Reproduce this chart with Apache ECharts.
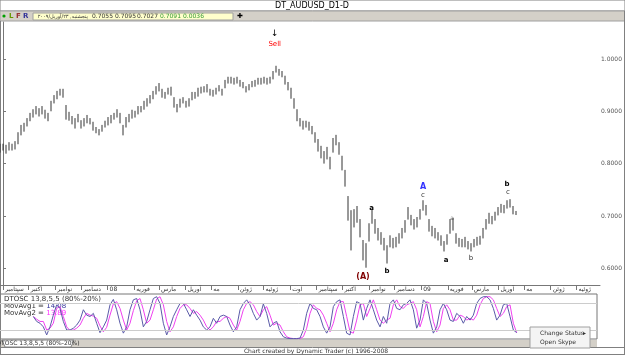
<!DOCTYPE html>
<html>
<head>
<meta charset="utf-8">
<script src="https://cdn.jsdelivr.net/npm/echarts@6/dist/echarts.min.js"></script>
<style>
  html, body { margin: 0; padding: 0; background: #fff; }
  #chart { width: 625px; height: 355px; }
</style>
</head>
<body>
<div id="chart"></div>
<script>
// x values are calendar days counted from 1 Sep 2007
const barStart = -3.5
const barStep = 3.5
const oscStart = 35.4
const oscStep = 3.889

const priceHigh = [
  0.838, 0.838, 0.836, 0.841, 0.838, 0.843, 0.860, 0.874, 0.878, 0.887,
  0.897, 0.904, 0.910, 0.906, 0.910, 0.903, 0.897, 0.920, 0.931, 0.939,
  0.943, 0.943, 0.912, 0.899, 0.891, 0.887, 0.895, 0.883, 0.887, 0.893,
  0.887, 0.880, 0.870, 0.866, 0.874, 0.882, 0.889, 0.893, 0.897, 0.904,
  0.897, 0.874, 0.889, 0.895, 0.903, 0.901, 0.910, 0.910, 0.920, 0.925,
  0.931, 0.939, 0.948, 0.954, 0.943, 0.937, 0.945, 0.947, 0.927, 0.914,
  0.924, 0.927, 0.920, 0.925, 0.937, 0.937, 0.945, 0.947, 0.948, 0.952,
  0.943, 0.941, 0.945, 0.950, 0.943, 0.960, 0.966, 0.966, 0.964, 0.966,
  0.960, 0.956, 0.948, 0.952, 0.958, 0.960, 0.964, 0.964, 0.966, 0.964,
  0.966, 0.977, 0.987, 0.981, 0.977, 0.968, 0.956, 0.945, 0.925, 0.904,
  0.887, 0.882, 0.882, 0.880, 0.872, 0.860, 0.847, 0.834, 0.824, 0.832,
  0.813, 0.849, 0.855, 0.841, 0.815, 0.788, 0.738, 0.711, 0.713, 0.719,
  0.694, 0.654, 0.648, 0.686, 0.713, 0.694, 0.677, 0.669, 0.658, 0.644,
  0.663, 0.658, 0.660, 0.667, 0.677, 0.692, 0.717, 0.702, 0.694, 0.698,
  0.713, 0.730, 0.721, 0.694, 0.681, 0.677, 0.669, 0.663, 0.652, 0.665,
  0.694, 0.696, 0.667, 0.658, 0.656, 0.660, 0.652, 0.648, 0.656, 0.660,
  0.662, 0.677, 0.694, 0.706, 0.700, 0.708, 0.717, 0.723, 0.721, 0.730,
  0.732, 0.719, 0.7095
]
const priceLow = [
  0.822, 0.826, 0.820, 0.826, 0.826, 0.828, 0.838, 0.855, 0.862, 0.872,
  0.882, 0.889, 0.895, 0.891, 0.895, 0.887, 0.882, 0.901, 0.916, 0.924,
  0.931, 0.927, 0.885, 0.883, 0.876, 0.868, 0.880, 0.868, 0.872, 0.878,
  0.876, 0.864, 0.859, 0.855, 0.862, 0.870, 0.874, 0.878, 0.885, 0.889,
  0.878, 0.855, 0.870, 0.880, 0.887, 0.889, 0.895, 0.899, 0.904, 0.910,
  0.916, 0.924, 0.933, 0.939, 0.927, 0.925, 0.933, 0.931, 0.908, 0.899,
  0.908, 0.916, 0.908, 0.910, 0.922, 0.925, 0.929, 0.935, 0.937, 0.937,
  0.931, 0.929, 0.933, 0.939, 0.931, 0.945, 0.954, 0.954, 0.952, 0.954,
  0.948, 0.945, 0.937, 0.941, 0.947, 0.948, 0.952, 0.952, 0.954, 0.952,
  0.954, 0.962, 0.975, 0.969, 0.966, 0.952, 0.941, 0.925, 0.906, 0.882,
  0.872, 0.866, 0.870, 0.864, 0.857, 0.841, 0.824, 0.811, 0.801, 0.809,
  0.790, 0.822, 0.836, 0.818, 0.788, 0.757, 0.692, 0.635, 0.679, 0.688,
  0.660, 0.616, 0.602, 0.652, 0.686, 0.667, 0.654, 0.646, 0.635, 0.610,
  0.641, 0.639, 0.641, 0.648, 0.658, 0.669, 0.694, 0.683, 0.675, 0.679,
  0.694, 0.711, 0.702, 0.671, 0.662, 0.658, 0.654, 0.644, 0.633, 0.646,
  0.667, 0.673, 0.648, 0.642, 0.641, 0.641, 0.637, 0.633, 0.641, 0.644,
  0.646, 0.658, 0.675, 0.686, 0.685, 0.692, 0.702, 0.707, 0.706, 0.715,
  0.717, 0.704, 0.7027
]
const lastBar = ['0.7055', '0.7095', '0.7027', '0.7091', '0.0036']
const lastClose = 0.7091

const oscFast = [
  50, 39, 35, 27, 9, 27, 53, 76, 68, 39,
  20, 20, 24, 31, 42, 65, 53, 50, 57, 35,
  14, 27, 42, 76, 88, 65, 35, 13, 27, 65,
  87, 90, 65, 27, 39, 65, 90, 94, 79, 35,
  9, 27, 50, 65, 79, 79, 65, 50, 65, 53,
  42, 27, 20, 27, 46, 35, 50, 53, 50, 31,
  16, 27, 65, 79, 87, 76, 57, 42, 50, 78,
  57, 27, 35, 39, 16, 5, 2, 1, 1, 1,
  2, 20, 57, 79, 68, 65, 50, 27, 13, 27,
  72, 83, 87, 50, 13, 9, 50, 83, 79, 42,
  68, 87, 65, 42, 27, 50, 35, 79, 87, 68,
  65, 76, 79, 87, 65, 24, 42, 87, 79, 42,
  13, 27, 65, 79, 65, 42, 39, 57, 50, 35,
  50, 42, 53, 79, 90, 94, 94, 87, 68, 42,
  53, 76, 79, 50, 20, 14.08
]
const oscSlow = [
  50, 44, 39, 39, 20, 24, 35, 68, 72, 50,
  27, 19, 20, 24, 31, 46, 57, 53, 51, 46,
  29, 16, 26, 53, 78, 83, 68, 42, 20, 35,
  63, 85, 90, 65, 35, 42, 65, 89, 94, 76,
  39, 16, 27, 50, 68, 76, 76, 68, 57, 61,
  53, 42, 27, 20, 27, 39, 39, 46, 50, 46,
  31, 20, 39, 65, 79, 83, 76, 61, 50, 65,
  72, 53, 31, 35, 31, 16, 5, 2, 1, 1,
  1, 5, 24, 57, 76, 68, 65, 53, 35, 16,
  35, 65, 83, 83, 50, 16, 13, 42, 76, 79,
  50, 68, 87, 65, 42, 35, 42, 46, 76, 87,
  72, 68, 76, 79, 83, 65, 27, 50, 83, 79,
  39, 16, 31, 68, 76, 65, 42, 42, 53, 50,
  42, 46, 42, 53, 76, 90, 94, 94, 87, 68,
  50, 57, 72, 76, 35, 13.89
]

const monthTicks = [0, 30, 61, 91, 122, 153, 182, 213, 243, 274, 304, 335,
  366, 396, 427, 457, 488, 519, 547, 578, 608, 639, 669]
const monthNames = ['سپتامبر', 'اکتبر', 'نوامبر', 'دسامبر', '08', 'فوریه', 'مارس', 'آوریل', 'مه', 'ژوئن', 'ژوئیه', 'اوت',
  'سپتامبر', 'اکتبر', 'نوامبر', 'دسامبر', '09', 'فوریه', 'مارس', 'آوریل', 'مه', 'ژوئن', 'ژوئیه']
const priceTicks = [0.6, 0.7, 0.8, 0.9, 1.0]
const oscLevels = [80, 20]

// wave labels: [day, price, text, colour, bold, size]
const waveLabels = [
  [317, 1.049, '↓', '#000000', false, 9],
  [317, 1.029, 'Sell', '#ff0000', false, 7],
  [420, 0.583, '(A)', '#800000', true, 8],
  [430, 0.715, 'a', '#000000', true, 7],
  [448, 0.595, 'b', '#000000', true, 7],
  [490, 0.755, 'A', '#3333ff', true, 8],
  [490, 0.740, 'c', '#333333', false, 7],
  [517, 0.616, 'a', '#000000', true, 7],
  [524, 0.696, 'a', '#555555', false, 6],
  [546, 0.620, 'b', '#333333', false, 7],
  [588, 0.761, 'b', '#000000', true, 7],
  [589, 0.746, 'c', '#333333', false, 7]
]

const font = 'DejaVu Sans'
const bars = priceHigh.map((h, i) => [barStart + barStep * i, priceLow[i], h])
const fast = oscFast.map((v, i) => [oscStart + oscStep * i, v])
const slow = oscSlow.map((v, i) => [oscStart + oscStep * i, v])

const chart = echarts.init(document.getElementById('chart'))
chart.setOption({
  animation: false,
  backgroundColor: '#ffffff',
  textStyle: { fontFamily: font },
  grid: [
    { left: 0, right: 25, top: 22, height: 263 },
    { left: 0, right: 28, top: 294, height: 45, show: true, borderColor: '#777777', borderWidth: 1 }
  ],
  xAxis: [{
    type: 'value',
    gridIndex: 0,
    min: -3.5,
    max: 696.5,
    axisLine: { lineStyle: { color: '#777777' } },
    axisTick: { customValues: monthTicks, length: 5, lineStyle: { color: '#777777' } },
    axisLabel: {
      customValues: monthTicks,
      fontSize: 6,
      color: '#333333',
      fontFamily: font,
      align: 'left',
      margin: 1,
      padding: [0, 0, 0, 2],
      formatter: v => monthNames[monthTicks.indexOf(Math.round(v))] || ''
    },
    splitLine: { show: false }
  }, {
    type: 'value',
    gridIndex: 1,
    min: -3.5,
    max: 693,
    show: false
  }],
  yAxis: [{
    type: 'value',
    gridIndex: 0,
    position: 'right',
    min: 0.568,
    max: 1.0707,
    axisLine: { show: true, lineStyle: { color: '#777777', width: 1 } },
    axisTick: { show: true, customValues: priceTicks, length: 3, inside: false, lineStyle: { color: '#777777' } },
    axisLabel: {
      customValues: priceTicks,
      fontSize: 6,
      color: '#555555',
      margin: 1,
      fontFamily: font,
      formatter: v => v.toFixed(4)
    },
    splitLine: { show: false }
  }, {
    type: 'value',
    gridIndex: 1,
    min: 0,
    max: 100,
    show: false
  }],
  series: [{
    type: 'custom',
    xAxisIndex: 0,
    yAxisIndex: 0,
    data: bars,
    encode: { x: 0, y: [1, 2] },
    renderItem: function (params, api) {
      const top = api.coord([api.value(0), api.value(2)])
      const bottom = api.coord([api.value(0), api.value(1)])
      return {
        type: 'line',
        shape: { x1: top[0], y1: top[1], x2: bottom[0], y2: bottom[1] + 0.5 },
        style: { stroke: '#333333', lineWidth: 1 }
      }
    },
    markLine: {
      silent: true,
      symbol: 'none',
      lineStyle: { opacity: 0 },
      label: {
        position: 'end',
        distance: 1,
        formatter: lastClose.toFixed(4),
        backgroundColor: '#ffff00',
        color: '#333333',
        fontSize: 6,
        fontFamily: font,
        padding: [1, 5, 0, 1]
      },
      data: [{ yAxis: lastClose }]
    },
    markPoint: {
      silent: true,
      symbol: 'circle',
      symbolSize: 0,
      data: waveLabels.map(w => ({
        coord: [w[0], w[1]],
        label: {
          show: true,
          position: 'inside',
          formatter: w[2],
          color: w[3],
          fontWeight: w[4] ? 'bold' : 'normal',
          fontSize: w[5],
          fontFamily: font
        }
      }))
    }
  }, {
    name: 'MovAvg1',
    type: 'line',
    xAxisIndex: 1,
    yAxisIndex: 1,
    data: fast,
    showSymbol: false,
    lineStyle: { color: '#5b5ba8', width: 1 },
    markLine: {
      silent: true,
      symbol: 'none',
      label: { show: false },
      lineStyle: { color: '#cccccc', width: 1, type: 'solid' },
      data: oscLevels.map(v => ({ yAxis: v }))
    },
    z: 3
  }, {
    name: 'MovAvg2',
    type: 'line',
    xAxisIndex: 1,
    yAxisIndex: 1,
    data: slow,
    showSymbol: false,
    lineStyle: { color: '#f040f0', width: 1 },
    z: 2
  }],
  graphic: [
    // title bar
    { type: 'rect', shape: { x: 0, y: 0, width: 625, height: 11 }, style: { fill: '#ffffff', stroke: '#808080', lineWidth: 1 }, silent: true },
    { type: 'text', x: 312, y: 6, style: { text: 'DT_AUDUSD_D1-D', fill: '#000000', font: '8px ' + font, align: 'center', verticalAlign: 'middle' } },
    // toolbar
    { type: 'rect', shape: { x: 0, y: 11, width: 625, height: 10 }, style: { fill: '#d4d0c8', stroke: '#a0a0a0', lineWidth: 1 }, silent: true },
    { type: 'circle', shape: { cx: 4, cy: 16, r: 1.6 }, style: { fill: '#00a000' } },
    { type: 'text', x: 9, y: 16, style: { text: 'L', fill: '#669900', font: 'bold 7px ' + font, verticalAlign: 'middle' } },
    { type: 'text', x: 16, y: 16, style: { text: 'F', fill: '#993333', font: 'bold 7px ' + font, verticalAlign: 'middle' } },
    { type: 'text', x: 23, y: 16, style: { text: 'R', fill: '#333399', font: 'bold 7px ' + font, verticalAlign: 'middle' } },
    { type: 'rect', shape: { x: 33, y: 13, width: 200, height: 7 }, style: { fill: '#ffffcc', stroke: '#a0a0a0', lineWidth: 1 } },
    { type: 'text', x: 88, y: 16.5, style: { text: 'پنجشنبه, ۲۳/آوریل/۲۰۰۹', fill: '#333333', font: '5px ' + font, align: 'right', verticalAlign: 'middle' } },
    { type: 'text', x: 92, y: 16.5, style: { text: lastBar[0], fill: '#333333', font: '6px ' + font, verticalAlign: 'middle' } },
    { type: 'text', x: 115, y: 16.5, style: { text: lastBar[1], fill: '#333333', font: '6px ' + font, verticalAlign: 'middle' } },
    { type: 'text', x: 137, y: 16.5, style: { text: lastBar[2], fill: '#333333', font: '6px ' + font, verticalAlign: 'middle' } },
    { type: 'text', x: 160, y: 16.5, style: { text: lastBar[3], fill: '#339933', font: '6px ' + font, verticalAlign: 'middle' } },
    { type: 'text', x: 183, y: 16.5, style: { text: lastBar[4], fill: '#339933', font: '6px ' + font, verticalAlign: 'middle' } },
    { type: 'text', x: 240, y: 16.5, style: { text: '✚', fill: '#000000', font: '7px ' + font, align: 'center', verticalAlign: 'middle' } },
    // frame
    { type: 'line', shape: { x1: 0.5, y1: 21, x2: 0.5, y2: 355 }, style: { stroke: '#808080', lineWidth: 1 } },
    { type: 'line', shape: { x1: 624.5, y1: 11, x2: 624.5, y2: 355 }, style: { stroke: '#808080', lineWidth: 1 } },
    // oscillator texts
    { type: 'text', x: 4, y: 299, style: { text: 'DTOSC 13,8,5,5 (80%-20%)', fill: '#333333', font: '7px ' + font, verticalAlign: 'middle' } },
    { type: 'text', x: 4, y: 306, style: { text: 'MovAvg1 = {a|14.08}', rich: { a: { fill: '#333399', font: '7px ' + font } }, fill: '#333333', font: '7px ' + font, verticalAlign: 'middle' } },
    { type: 'text', x: 4, y: 313, style: { text: 'MovAvg2 = {a|13.89}', rich: { a: { fill: '#ff33ff', font: '7px ' + font } }, fill: '#333333', font: '7px ' + font, verticalAlign: 'middle' } },
    // tab strip
    { type: 'rect', shape: { x: 1, y: 340, width: 596, height: 7 }, style: { fill: '#d4d0c8' }, silent: true },
    { type: 'polygon', shape: { points: [[2, 340], [74, 340], [71, 347], [5, 347]] }, style: { fill: '#ffffff', stroke: '#808080', lineWidth: 1 } },
    { type: 'text', x: 38, y: 343.5, style: { text: 'DTOSC 13,8,5,5 (80%-20%)', fill: '#333333', font: '6px ' + font, align: 'center', verticalAlign: 'middle' } },
    { type: 'line', shape: { x1: 0, y1: 347.5, x2: 625, y2: 347.5 }, style: { stroke: '#808080', lineWidth: 1 } },
    { type: 'text', x: 316, y: 351, style: { text: 'Chart created by Dynamic Trader (c) 1996-2008', fill: '#333333', font: '6px ' + font, align: 'center', verticalAlign: 'middle' } },
    { type: 'line', shape: { x1: 0, y1: 354.5, x2: 625, y2: 354.5 }, style: { stroke: '#808080', lineWidth: 1 } },
    // context menu
    { type: 'rect', shape: { x: 530, y: 327, width: 60, height: 21 }, style: { fill: '#f4f4f4', stroke: '#a0a0a0', lineWidth: 1 }, z: 100 },
    { type: 'text', x: 540, y: 333, z: 101, style: { text: 'Change Status', fill: '#333333', font: '6px ' + font, verticalAlign: 'middle' } },
    { type: 'text', x: 583, y: 333, z: 101, style: { text: '▸', fill: '#333333', font: '6px ' + font, verticalAlign: 'middle' } },
    { type: 'text', x: 540, y: 342, z: 101, style: { text: 'Open Skype', fill: '#333333', font: '6px ' + font, verticalAlign: 'middle' } }
  ]
})
</script>
</body>
</html>
